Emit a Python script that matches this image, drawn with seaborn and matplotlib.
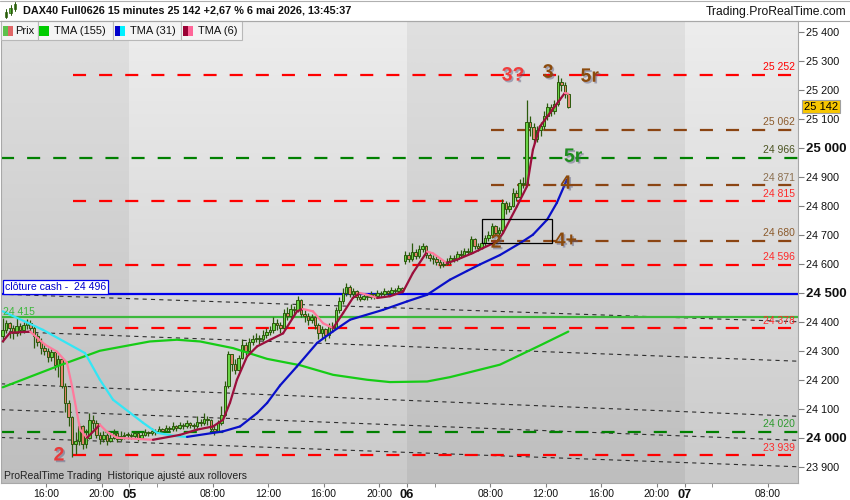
import numpy as np
import pandas as pd
import matplotlib
matplotlib.use("Agg")
import matplotlib.pyplot as plt
import matplotlib.patheffects as pe
from matplotlib.patches import Rectangle
from matplotlib.colors import LinearSegmentedColormap
from matplotlib.lines import Line2D
import seaborn as sns

# ---------------- data ----------------
opens = [24350, 24370, 24395, 24380, 24360, 24385, 24370, 24390, 24395, 24380,
         24350, 24330, 24310, 24300, 24280, 24295, 24250, 24270, 24180, 24120,
         24070, 23980, 23990, 24040, 23980, 24000, 24060, 24050, 24010, 23995,
         24010, 23990, 24000, 24015, 23995, 24005,
         24010, 24010, 24005, 24015, 24000, 24010, 24020, 24015, 24025, 24020,
         24030, 24025, 24035, 24030, 24040, 24035, 24045, 24040, 24050, 24045,
         24040, 24055, 24050, 24065, 24060, 24030, 24025, 24050, 24080, 24180,
         24290, 24255, 24235, 24275, 24320, 24300, 24330, 24340, 24345, 24340,
         24355, 24365, 24370, 24395, 24390, 24380, 24430, 24420, 24445, 24440,
         24475, 24425, 24420, 24405, 24415, 24390, 24360, 24375, 24355, 24385,
         24380, 24440, 24470, 24500, 24520, 24495, 24505, 24485, 24480, 24490,
         24485, 24495, 24490, 24500, 24495, 24505, 24500, 24510, 24505, 24515,
         24610, 24630, 24615, 24640, 24625, 24650, 24660, 24630, 24620, 24615,
         24605, 24595, 24600, 24610, 24620, 24615, 24635, 24630, 24645, 24640,
         24685, 24660, 24655, 24670, 24690, 24700, 24730, 24705, 24715, 24810,
         24790, 24800, 24845, 24830, 24880, 24875, 25090, 25070, 25030, 25060,
         25075, 25110, 25140, 25125, 25150, 25225, 25215, 25185]
highs = [24414, 24405, 24400, 24390, 24412, 24395, 24400, 24410, 24405, 24385,
         24360, 24345, 24325, 24310, 24305, 24300, 24285, 24275, 24190, 24130,
         24075, 24020, 24050, 24045, 24030, 24085, 24080, 24060, 24020, 24025,
         24015, 24020, 24030, 24020, 24025, 24020,
         24020, 24015, 24025, 24020, 24020, 24030, 24025, 24035, 24030, 24040,
         24035, 24045, 24040, 24055, 24045, 24055, 24050, 24060, 24055, 24050,
         24075, 24065, 24085, 24075, 24065, 24045, 24060, 24110, 24195, 24300,
         24290, 24270, 24285, 24340, 24330, 24345, 24355, 24360, 24355, 24370,
         24380, 24385, 24415, 24410, 24400, 24445, 24450, 24460, 24455, 24490,
         24480, 24440, 24430, 24425, 24420, 24395, 24385, 24380, 24395, 24400,
         24450, 24485, 24515, 24535, 24525, 24515, 24510, 24495, 24500, 24495,
         24505, 24500, 24510, 24505, 24515, 24510, 24520, 24515, 24525, 24520,
         24645, 24640, 24672, 24650, 24665, 24670, 24665, 24640, 24630, 24625,
         24615, 24610, 24620, 24630, 24630, 24645, 24648, 24655, 24655, 24695,
         24690, 24670, 24680, 24700, 24712, 24740, 24735, 24728, 24822, 24815,
         24812, 24860, 24855, 24892, 24900, 25165, 25110, 25085, 25075, 25090,
         25125, 25155, 25150, 25165, 25252, 25240, 25225, 25190]
lows = [24330, 24360, 24345, 24340, 24350, 24355, 24360, 24375, 24365, 24310,
        24315, 24290, 24285, 24260, 24265, 24235, 24210, 24170, 24090, 24040,
        23935, 23945, 23975, 23960, 23965, 23995, 24030, 24000, 23980, 23985,
        23975, 23985, 23995, 23985, 23990, 23995,
        23995, 23995, 24000, 23990, 23995, 24005, 24005, 24010, 24010, 24015,
        24015, 24020, 24020, 24025, 24025, 24030, 24030, 24035, 24035, 24030,
        24035, 24040, 24045, 24045, 24020, 24010, 24020, 24045, 24075, 24170,
        24230, 24220, 24230, 24270, 24285, 24295, 24320, 24330, 24325, 24335,
        24345, 24355, 24360, 24370, 24360, 24375, 24405, 24410, 24420, 24435,
        24415, 24400, 24390, 24395, 24375, 24340, 24345, 24335, 24345, 24365,
        24375, 24430, 24460, 24490, 24485, 24485, 24475, 24470, 24475, 24475,
        24480, 24480, 24485, 24485, 24490, 24490, 24495, 24495, 24500, 24500,
        24600, 24605, 24610, 24615, 24620, 24640, 24620, 24610, 24600, 24595,
        24585, 24588, 24595, 24600, 24605, 24610, 24620, 24625, 24630, 24635,
        24650, 24645, 24650, 24660, 24680, 24690, 24695, 24698, 24710, 24770,
        24780, 24795, 24815, 24825, 24860, 24870, 25040, 25018, 25020, 25040,
        25065, 25095, 25110, 25115, 25145, 25195, 25170, 25138]
closes = [24370, 24395, 24380, 24360, 24385, 24370, 24390, 24395, 24380, 24350,
          24330, 24310, 24300, 24280, 24295, 24250, 24270, 24180, 24120, 24070,
          23980, 23990, 24040, 23980, 24000, 24060, 24050, 24010, 23995, 24010,
          23990, 24000, 24015, 23995, 24005, 24010,
          24010, 24005, 24015, 24000, 24010, 24020, 24015, 24025, 24020, 24030,
          24025, 24035, 24030, 24040, 24035, 24045, 24040, 24050, 24045, 24040,
          24055, 24050, 24065, 24060, 24030, 24025, 24050, 24080, 24180, 24290,
          24255, 24235, 24275, 24320, 24300, 24330, 24340, 24345, 24340, 24355,
          24365, 24370, 24395, 24390, 24380, 24430, 24420, 24445, 24440, 24475,
          24425, 24420, 24405, 24415, 24390, 24360, 24375, 24355, 24385, 24380,
          24440, 24470, 24500, 24520, 24495, 24505, 24485, 24480, 24490, 24485,
          24495, 24490, 24500, 24495, 24505, 24500, 24510, 24505, 24515, 24510,
          24630, 24615, 24640, 24625, 24650, 24660, 24630, 24620, 24615, 24605,
          24595, 24600, 24610, 24620, 24615, 24635, 24630, 24645, 24640, 24685,
          24660, 24655, 24670, 24690, 24700, 24730, 24705, 24715, 24810, 24790,
          24800, 24845, 24830, 24880, 24875, 25090, 25070, 25030, 25060, 25075,
          25110, 25140, 25125, 25150, 25225, 25215, 25185, 25142]

# moving averages read at sample bars
tma155_x = [0, 16.5, 28, 42.4, 50.2, 56.9, 66.4, 76.2, 85.7, 95.2, 105, 111.6,
            122.3, 128.9, 143.3, 154.8, 163]
tma155_y = [24174, 24250, 24300, 24332, 24338, 24332, 24309, 24272, 24250, 24217,
            24200, 24192, 24194, 24209, 24252, 24318, 24366]
tma31_x = [0, 11.6, 23.7, 28, 31.8, 36.7, 40.4, 44.5, 49.7, 53.1, 63.5, 68.4, 73.3,
           76.2, 79.9, 84.8, 90.6, 95.2, 100.1, 109.6, 116.5, 122.3, 128.9, 133.8,
           137.6, 143.3, 149.1, 152.8, 156.9, 159.7, 162.6]
tma31_y = [24436, 24372, 24292, 24200, 24131, 24086, 24052, 24017, 24006, 24003,
           24022, 24039, 24085, 24120, 24180, 24246, 24327, 24367, 24407, 24441,
           24470, 24493, 24545, 24575, 24598, 24630, 24671, 24700, 24752, 24810, 24890]
tma6_x = [0, 2.1, 7.9, 12.2, 15.6, 18.5, 20, 22.3, 24.3, 28, 30, 32.9, 38.7, 43.3,
          51.1, 56, 60.6, 63.5, 65.5, 67.5, 70.4, 73.3, 77.1, 80.8, 84.8, 86.5, 89.4,
          92.3, 95.2, 98.1, 100.9, 103, 105, 107.9, 111.6, 115.4, 118.2, 122.3, 124,
          128, 130.9, 135.5, 138.4, 142.5, 144.2, 148.2, 151.1, 152.8, 154.8, 157.7,
          160.6, 162, 163]
tma6_y = [24332, 24362, 24366, 24321, 24297, 24259, 24176, 24028, 24000, 24045,
          24021, 24000, 23996, 23993, 24010, 24028, 24039, 24062, 24121, 24200,
          24280, 24315, 24338, 24360, 24436, 24444, 24436, 24395, 24378, 24430,
          24482, 24499, 24493, 24482, 24488, 24504, 24568, 24642, 24636, 24602,
          24614, 24637, 24654, 24677, 24706, 24798, 24867, 24993, 25073, 25120,
          25166, 25189, 25186]

# levels
red_levels = [25252, 24815, 24596, 24378, 23939]
green_levels = [24966, 24020]
brown_levels = [25062, 24871, 24680]
cash_close = 24496
green_solid = 24415
last_price = 25142
# sloping dotted lines: value at left edge, value at right edge
trend_left = [24495, 24367, 24186, 24097, 24001]
trend_right = [24400, 24264, 24074, 23991, 23900]

tick_pos = [12.5, 28.5, 36.5, 60.5, 76.5, 92.5, 108.5, 116.5, 140.5, 156.5,
            172.5, 188.5, 196.5, 220.5]
tick_lbl = ["16:00", "20:00", "05", "08:00", "12:00", "16:00", "20:00", "06",
            "08:00", "12:00", "16:00", "20:00", "07", "08:00"]
day_lbls = ["05", "06", "07"]
minor_pos = [44.5, 124.5, 204.5]
day_bounds = [36.5, 116.5, 196.5]

# ---------------- styling ----------------
sns.set_style("white")
plt.rcParams['font.family'] = ['Liberation Sans', 'DejaVu Sans']
plt.rcParams['lines.scale_dashes'] = False

W, H = 850, 500
XMIN, XMAX = -0.5, 229.2
YMIN, YMAX = 23844, 25437

fig = plt.figure(figsize=(8.5, 5), dpi=100, facecolor='white')
ax = fig.add_axes([1 / W, 17 / H, 797 / W, 462 / H])

# background gradient bands
dark = LinearSegmentedColormap.from_list('d', ['#e0e0e0', '#bebebe'])
light = LinearSegmentedColormap.from_list('l', ['#ededed', '#cacaca'])
grad = np.linspace(0, 1, 256).reshape(-1, 1)
edges = [XMIN] + day_bounds + [XMAX]
for k in range(len(edges) - 1):
    ax.imshow(grad, extent=[edges[k], edges[k + 1], YMIN, YMAX], origin='upper',
              aspect='auto', cmap=dark if k % 2 == 0 else light, zorder=0)

# dotted sloping lines
for yl, yr in zip(trend_left, trend_right):
    ax.plot([XMIN, XMAX], [yl, yr], color='#2e2e2e', lw=0.8,
            linestyle=(0, (3, 3)), zorder=1)

dash = (0, (9.4, 9.4))
for v in red_levels:
    ax.plot([20.3, XMAX], [v, v], color='#ff0000', lw=1.6, linestyle=dash, zorder=2)
for v in green_levels:
    ax.plot([XMIN, XMAX], [v, v], color='#008000', lw=1.6, linestyle=dash, zorder=2)
for v in brown_levels:
    ax.plot([140.8, XMAX], [v, v], color='#8B4513', lw=1.6, linestyle=dash, zorder=2)
ax.plot([XMIN, XMAX], [cash_close, cash_close], color='#0000ee', lw=1.6, zorder=2)
ax.plot([XMIN, XMAX], [green_solid, green_solid], color='#3cb83c', lw=1.6, zorder=2)

# candles
df = pd.DataFrame(dict(o=opens, h=highs, l=lows, c=closes))
df['i'] = np.arange(len(df))
edge = '#2b5a0c'
ax.vlines(df.i, df.l, df.h, color=edge, lw=0.9, zorder=3)
up = df.c >= df.o
body = (df.c - df.o).abs().clip(lower=3)
ax.bar(df.i[up], body[up], bottom=df[['o', 'c']].min(axis=1)[up], width=0.72,
       color='#6ad447', edgecolor=edge, lw=0.7, zorder=3.2)
ax.bar(df.i[~up], body[~up], bottom=df[['o', 'c']].min(axis=1)[~up], width=0.72,
       color='#e2826c', edgecolor=edge, lw=0.7, zorder=3.2)

# moving averages
ma155 = pd.DataFrame(dict(x=tma155_x, y=tma155_y))
sns.lineplot(data=ma155, x='x', y='y', ax=ax, color='#16cc16', lw=1.6, zorder=4,
             sort=False, estimator=None)


def two_tone(xs, ys, c_up, c_dn):
    for k in range(len(xs) - 1):
        col = c_up if ys[k + 1] >= ys[k] else c_dn
        ax.plot(xs[k:k + 2], ys[k:k + 2], color=col, lw=1.6, zorder=4.2,
                solid_capstyle='round')


two_tone(tma31_x, tma31_y, '#0a10c8', '#33e6f5')
two_tone(tma6_x, tma6_y, '#9b0f3c', '#ff7a9c')

# annotation box
ax.add_patch(Rectangle((138.2, 24673), 20.1, 81, fill=False, ec='black', lw=0.9, zorder=5))

shadow = [pe.SimplePatchShadow(offset=(1.2, -1.2), shadow_rgbFace=(0.35, 0.35, 0.5), alpha=0.45),
          pe.Normal()]
notes = [("2", 16.2, 23937, '#e83a3a'), ("3?", 147.1, 25247, '#f03c3c'),
         ("3", 157.2, 25257, '#8b4a0c'), ("5r", 169.2, 25243, '#8b4a0c'),
         ("5r", 164.4, 24967, '#1e8c1e'), ("4", 162.3, 24874, '#8b4a0c'),
         ("4+", 162.3, 24677, '#8b4a0c'), ("2", 142.2, 24671, '#8b4a0c')]
for t, x, y, c in notes:
    ax.text(x, y, t, color=c, fontsize=14, fontweight='bold', ha='center', va='center',
            zorder=6, path_effects=shadow)


def fmt(v):
    return f"{v:,}".replace(",", " ")


right_lbls = [(25252, '#ff0000'), (25062, '#8b5a2b'), (24966, '#4b5320'),
              (24871, '#8b6e4e'), (24815, '#ff2a2a'), (24680, '#8b5a2b'),
              (24596, '#ff2a2a'), (24378, '#ff2a2a'), (24020, '#2e9a2e'),
              (23939, '#ff2a2a')]
for v, c in right_lbls:
    ax.annotate(fmt(v), xy=(1, v), xycoords=('axes fraction', 'data'),
                xytext=(-3, 7.5), textcoords='offset pixels', ha='right', va='center',
                fontsize=7.5, color=c, zorder=6)

ax.annotate("clôture cash -  " + fmt(cash_close), xy=(0, cash_close),
            xycoords=('axes fraction', 'data'), xytext=(4, 7), textcoords='offset pixels',
            ha='left', va='center', fontsize=7.6, color='#0000cc', zorder=7,
            bbox=dict(boxstyle='square,pad=0.2', fc='white', ec='#0000ee', lw=0.9))
ax.annotate(fmt(green_solid), xy=(0, green_solid), xycoords=('axes fraction', 'data'),
            xytext=(2, 5), textcoords='offset pixels', ha='left', va='center',
            fontsize=7.5, color='#3cb83c', zorder=6)
ax.text(0.004, 0.016, "ProRealTime Trading  Historique ajusté aux rollovers",
        transform=ax.transAxes, fontsize=7.5, color='#222222', ha='left', va='center',
        zorder=6)

# last price box
ax.annotate(fmt(last_price), xy=(1, last_price), xycoords=('axes fraction', 'data'),
            xytext=(6, 0), textcoords='offset pixels', ha='left', va='center',
            fontsize=8, color='black', zorder=10, annotation_clip=False,
            bbox=dict(boxstyle='square,pad=0.15', fc='#f7c600', ec='#a0a0a0', lw=0.8))

# axes
ax.set_xlim(XMIN, XMAX)
ax.set_ylim(YMIN, YMAX)
ax.set_xlabel('')
ax.set_ylabel('')
ax.yaxis.tick_right()
yt = list(range(23900, 25401, 100))
ax.set_yticks(yt)
ax.set_yticklabels([fmt(v) for v in yt])
ax.tick_params(axis='y', length=4, color='#808080', labelsize=7.8, pad=2, right=True,
               left=False, labelcolor='#111111')
for lab, v in zip(ax.get_yticklabels(), yt):
    if v in (25000, 24500, 24000):
        lab.set_fontweight('bold')
        lab.set_fontsize(9.5)
ax.set_xticks(tick_pos)
ax.set_xticklabels(tick_lbl)
ax.set_xticks(minor_pos, minor=True)
ax.tick_params(axis='x', which='both', length=3, color='#808080', labelsize=7.5, pad=1,
               bottom=True, labelcolor='#111111')
for lab in ax.get_xticklabels():
    if lab.get_text() in day_lbls:
        lab.set_fontweight('bold')
        lab.set_fontsize(9.3)
for s in ax.spines.values():
    s.set_color('#a8a8a8')
    s.set_linewidth(0.8)


# ---------------- header & legend ----------------
def frect(x, y, w, h, **kw):
    fig.add_artist(Rectangle((x / W, 1 - (y + h) / H), w / W, h / H,
                             transform=fig.transFigure, **kw))


fig.add_artist(Line2D([0, 1], [1 - 0.5 / H] * 2, transform=fig.transFigure,
                      color='#b0b0b0', lw=0.8))
fig.add_artist(Line2D([0, 1], [1 - 21 / H] * 2, transform=fig.transFigure,
                      color='#a8a8a8', lw=0.8))
# small candle icon
for (x, y0, y1, b0, b1) in [(6, 9, 18, 12, 17), (10.5, 5, 15, 8, 13), (15, 2, 11, 4, 9)]:
    fig.add_artist(Line2D([x / W] * 2, [1 - y0 / H, 1 - y1 / H], transform=fig.transFigure,
                          color='#2b5a0c', lw=0.7))
    frect(x - 1.3, b0, 2.6, b1 - b0, fc='#55b83a', ec='#2b5a0c', lw=0.5)

fig.text(23 / W, 1 - 10.5 / H, "DAX40 Full0626 15 minutes 25 142 +2,67 % 6 mai 2026, 13:45:37",
         fontsize=7.85, fontweight='bold', va='center', ha='left', color='#111111')
fig.text(846 / W, 1 - 12 / H, "Trading.ProRealTime.com", fontsize=8.7, va='center',
         ha='right', color='#111111')

boxes = [(1, 36.5, "Prix", ('#5cc24c', '#e06666'), 15),
         (37.5, 75, "TMA (155)", ('#00cc00', '#00cc00'), 54),
         (113, 67.5, "TMA (31)", ('#0000cc', '#00f0ff'), 130),
         (181, 61.5, "TMA (6)", ('#990033', '#ff6699'), 198)]
for x, w, t, (c1, c2), tx in boxes:
    frect(x, 21.5, w, 18, fc='#f4f4f4', ec='#b8b8b8', lw=0.8)
    frect(x + 1.8, 25.8, 5, 10, fc=c1, ec='none')
    frect(x + 6.8, 25.8, 5, 10, fc=c2, ec='none')
    fig.text(tx / W, 1 - 31 / H, t, fontsize=8, va='center', ha='left', color='#111111')

fig.savefig("out.png", dpi=100, facecolor='white')
